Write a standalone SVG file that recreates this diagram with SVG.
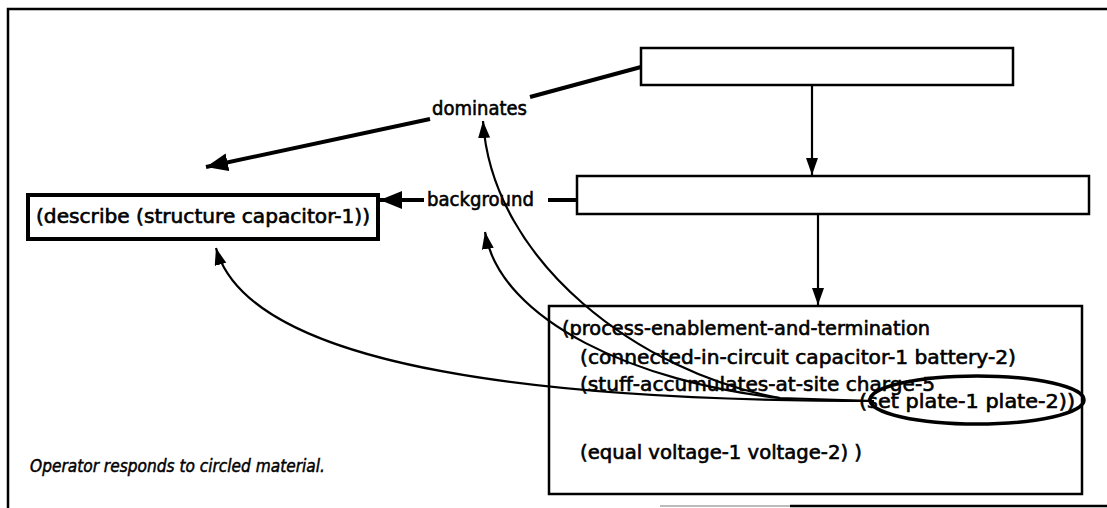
<svg xmlns="http://www.w3.org/2000/svg" width="1107" height="508" viewBox="0 0 1107 508">
<style>
.frame{fill:none;stroke:#000;stroke-width:2.5}
.box{fill:#fff;stroke:#000;stroke-width:2.5}
.thick{fill:#fff;stroke:#000;stroke-width:4}
.t{font-family:"DejaVu Sans","Liberation Sans",sans-serif;font-size:19px;fill:#000;stroke:#000;stroke-width:0.6}
.cap{font-family:"DejaVu Sans","Liberation Sans",sans-serif;font-size:17px;font-style:italic;fill:#000;stroke:#000;stroke-width:0.5}
.c{fill:none;stroke:#000;stroke-width:2.2}
.cb{fill:none;stroke:#000;stroke-width:4}
</style>
<defs>
<marker id="ah" markerUnits="userSpaceOnUse" markerWidth="20" markerHeight="14" refX="17" refY="6" orient="auto">
<path d="M0,0 L17,6 L0,12 Z" fill="#000"/>
</marker>
<marker id="ahb" markerUnits="userSpaceOnUse" markerWidth="24" markerHeight="20" refX="22" refY="9" orient="auto">
<path d="M0,0 L22,9 L0,18 Z" fill="#000"/>
</marker>
</defs>
<rect width="1107" height="508" fill="#fff"/>
<g id="frame">
<path class="frame" d="M8,508 L8,9 L1107,9"/>
<path d="M790,506 L1107,506" stroke="#000" stroke-width="2.5"/>
<path d="M660,506 L790,506" stroke="#bbb" stroke-width="2"/>
</g>
<g id="connectors">
<path class="cb" d="M641,67 L530,97"/>
<path class="cb" d="M430,119 L206,167" marker-end="url(#ahb)"/>
<path class="cb" d="M577,200 L548,200"/>
<path class="cb" d="M424,200 L380,200" marker-end="url(#ahb)"/>
<path class="c" d="M812,86 L812,175" marker-end="url(#ah)"/>
<path class="c" d="M818,215 L818,305" marker-end="url(#ah)"/>
<path class="c" d="M874,401 L780,398 C640,373 492,262 483,121" marker-end="url(#ah)"/>
<path class="c" d="M780,398 C640,383 500,322 485,232" marker-end="url(#ah)"/>
<path class="c" d="M874,401 C560,401 250,372 216,248" marker-end="url(#ah)"/>
</g>
<g id="nodeA"><rect class="box" x="641" y="48" width="372" height="37"/></g>
<g id="nodeB"><rect class="box" x="577" y="176" width="512" height="38"/></g>
<g id="dominates"><text class="t" x="432" y="115" textLength="95" lengthAdjust="spacingAndGlyphs">dominates</text></g>
<g id="background"><text class="t" x="427" y="206" textLength="107" lengthAdjust="spacingAndGlyphs">background</text></g>
<g id="describe">
<rect class="thick" x="28" y="195" width="350" height="44"/>
<text class="t" x="36" y="223" textLength="334" lengthAdjust="spacingAndGlyphs">(describe (structure capacitor-1))</text>
</g>
<g id="process">
<rect class="box" x="549" y="306" width="533" height="188" style="fill:none"/>
<text class="t" x="562" y="335" textLength="368" lengthAdjust="spacingAndGlyphs">(process-enablement-and-termination</text>
<text class="t" x="580" y="364" textLength="436" lengthAdjust="spacingAndGlyphs">(connected-in-circuit capacitor-1 battery-2)</text>
<text class="t" x="580" y="391" textLength="355" lengthAdjust="spacingAndGlyphs">(stuff-accumulates-at-site charge-5</text>
<text class="t" x="859" y="408" textLength="216" lengthAdjust="spacingAndGlyphs">(set plate-1 plate-2))</text>
<text class="t" x="580" y="459" textLength="282" lengthAdjust="spacingAndGlyphs">(equal voltage-1 voltage-2) )</text>
</g>
<g id="circle"><ellipse cx="977" cy="400" rx="107" ry="24" fill="none" stroke="#000" stroke-width="3.5"/></g>
<g id="caption"><text class="cap" x="30" y="472" textLength="295" lengthAdjust="spacingAndGlyphs">Operator responds to circled material.</text></g>
</svg>
